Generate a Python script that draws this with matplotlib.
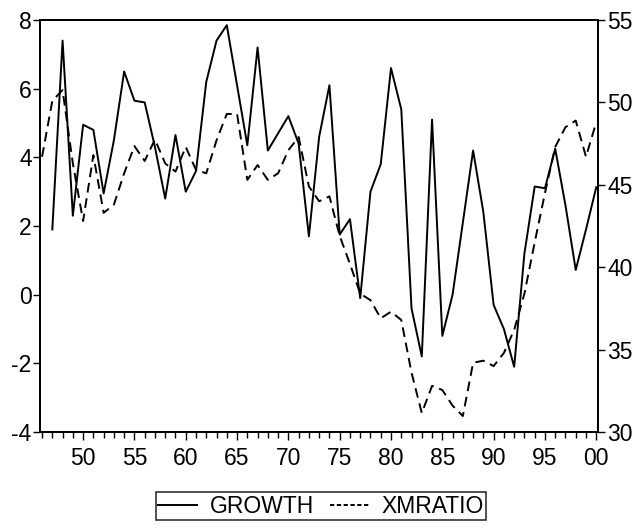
import matplotlib
matplotlib.use("Agg")
import matplotlib.pyplot as plt
from matplotlib.lines import Line2D
import numpy as np

plt.rcParams.update({"font.family": ["Liberation Sans", "DejaVu Sans"], "font.size": 16.5,
                     "axes.unicode_minus": False})

years_g = np.arange(1947, 2001)
growth = [1.9, 7.4, 2.3, 4.95, 4.8, 2.95, 4.5, 6.5, 5.65, 5.6,
          4.3, 2.8, 4.65, 3.0, 3.6, 6.2, 7.4, 7.85, 6.1, 4.35,
          7.2, 4.2, 4.7, 5.2, 4.4, 1.7, 4.6, 6.1, 1.75, 2.2,
          -0.1, 3.0, 3.8, 6.6, 5.4, -0.4, -1.8, 5.1, -1.2, 0.0,
          2.1, 4.2, 2.4, -0.3, -1.0, -2.1, 1.2, 3.15, 3.1, 4.25,
          2.6, 0.72, 1.9, 3.13]

years_x = np.arange(1946, 2001)
xmratio = [46.7, 50.1, 50.75, 46.3, 42.8, 46.8, 43.3, 43.8, 45.7, 47.35,
           46.45, 47.75, 46.3, 45.8, 47.3, 45.9, 45.7, 47.7, 49.3, 49.3,
           45.3, 46.2, 45.3, 45.7, 47.1, 47.9, 44.9, 44.0, 44.3, 41.9,
           40.2, 38.4, 38.0, 36.9, 37.3, 36.8, 33.6, 31.15, 32.8, 32.55,
           31.6, 30.97, 34.2, 34.33, 34.0, 34.8, 36.2, 38.4, 41.5, 44.5,
           47.3, 48.5, 48.9, 46.7, 48.8]

fig = plt.figure(figsize=(6.38, 5.31), dpi=100)
ax = fig.add_axes([0.0627, 0.1864, 0.8743, 0.7759])
ax2 = ax.twinx()

ax.plot(years_g, growth, color="black", lw=1.4)
ax2.plot(years_x, xmratio, color="black", lw=1.4, ls=(0, (5, 3)))

ax.set_xlim(1945.8, 2000.15)
ax.set_ylim(-4, 8)
ax2.set_ylim(30, 55)
ax.set_yticks(np.arange(-4, 9, 2))
ax2.set_yticks(np.arange(30, 56, 5))
ax.set_xticks(np.arange(1950, 2001, 5))
ax.set_xticklabels(["50", "55", "60", "65", "70", "75", "80", "85", "90", "95", "00"])
ax.set_xticks(np.arange(1946, 2001), minor=True)

for a in (ax, ax2):
    for s in a.spines.values():
        s.set_linewidth(1.4)
ax.tick_params(axis="x", which="major", length=6, width=1, direction="out", pad=5)
ax.tick_params(axis="x", which="minor", length=4, width=1, direction="out")
ax.tick_params(axis="y", length=5, width=1, direction="out", pad=1)
ax2.tick_params(axis="y", length=5, width=1, direction="out", pad=2)

# legend proxies (EViews draws a short, fine dash in the key)
h1 = Line2D([], [], color="black", lw=1.4)
h2 = Line2D([], [], color="black", lw=1.4, ls=(0, (2.2, 1.3)))
leg = fig.legend([h1, h2], ["GROWTH", "XMRATIO"], loc="center", bbox_to_anchor=(0.503, 0.047),
                 ncol=2, frameon=True, fancybox=False, edgecolor="black", fontsize=16.5,
                 handlelength=1.7, handletextpad=0.55, columnspacing=0.7,
                 borderpad=0.1, borderaxespad=0)
leg.get_frame().set_linewidth(1.2)

fig.savefig("out.png", dpi=100)
